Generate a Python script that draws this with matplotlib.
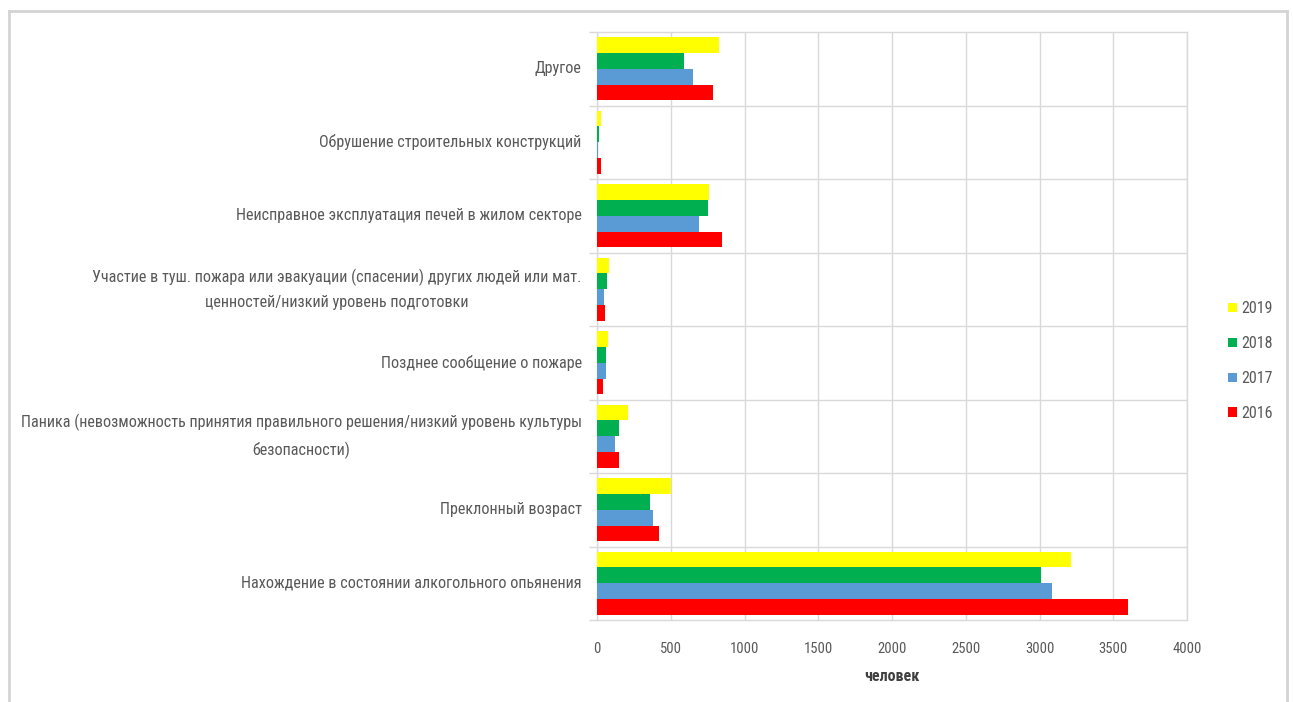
import matplotlib.pyplot as plt
from matplotlib.patches import Patch
import numpy as np

plt.rcParams['font.family'] = ['Roboto Condensed', 'Roboto', 'DejaVu Sans']

categories = [
    'Нахождение в состоянии алкогольного опьянения',
    'Преклонный возраст',
    'Паника (невозможность принятия правильного решения/низкий уровень культуры\nбезопасности)',
    'Позднее сообщение о пожаре',
    'Участие в туш. пожара или эвакуации (спасении) других людей или мат.\nценностей/низкий уровень подготовки',
    'Неисправное эксплуатация печей в жилом секторе',
    'Обрушение строительных конструкций',
    'Другое',
]

years = ['2016', '2017', '2018', '2019']
colors = ['#FF0000', '#5B9BD5', '#00B050', '#FFFF00']

v2016 = [3597, 422, 151, 43, 54, 848, 25, 787]
v2017 = [3083, 383, 120, 63, 48, 690, 10, 651]
v2018 = [3010, 361, 151, 63, 66, 753, 14, 590]
v2019 = [3213, 500, 213, 74, 83, 760, 27, 827]
series = [v2016, v2017, v2018, v2019]

text_color = '#595959'
grid_color = '#D9D9D9'

fig = plt.figure(figsize=(12.93, 7.02), dpi=100)
ax = fig.add_axes([597 / 1293, 1 - 620 / 702, 590 / 1293, 588 / 702])

y = np.arange(len(categories))
h = 0.215
for i, (vals, col, yr) in enumerate(zip(series, colors, years)):
    ax.barh(y + (i - 1.5) * h, vals, height=h, color=col, label=yr, zorder=3)

ax.set_xlim(0, 4000)
ax.set_ylim(-0.5, len(categories) - 0.5)
ax.set_xticks(np.arange(0, 4001, 500))
ax.set_yticks(y)
ax.set_yticklabels(categories, ha='right', va='center', multialignment='center',
                   linespacing=1.75)
ax.set_yticks(np.arange(-0.5, len(categories), 1), minor=True)

ax.tick_params(axis='y', which='major', length=0, labelsize=11.6, colors=text_color, pad=11)
ax.tick_params(axis='y', which='minor', length=6, color=grid_color, width=1)
ax.tick_params(axis='x', length=0, labelsize=10.5, colors=text_color, pad=16)

ax.xaxis.grid(True, color=grid_color, linewidth=1, zorder=0)
for b in np.arange(0.5, len(categories) - 1, 1):
    ax.axhline(b, color=grid_color, linewidth=1, zorder=0)
for s in ax.spines.values():
    s.set_color(grid_color)
    s.set_linewidth(1)

ax.set_xlabel('человек', fontsize=11.5, fontweight='bold', color='#404040', labelpad=9)

handles = [Patch(facecolor=c, edgecolor='none') for c in colors][::-1]
fig.legend(handles, years[::-1], loc='center left',
           bbox_to_anchor=(1220 / 1293, 1 - 361 / 702), frameon=False,
           fontsize=11.5, labelcolor=text_color, handlelength=0.55,
           handleheight=0.55, handletextpad=0.3, labelspacing=1.25,
           borderpad=0)

# outer frame of the chart area
frame_color = '#D4D4D4'
fig.add_artist(plt.Line2D([9 / 1293, 9 / 1293], [0, 1 - 11 / 702],
                          transform=fig.transFigure, color=frame_color, lw=2))
fig.add_artist(plt.Line2D([9 / 1293, 1287 / 1293], [1 - 11 / 702, 1 - 11 / 702],
                          transform=fig.transFigure, color=frame_color, lw=2))
fig.add_artist(plt.Line2D([1287 / 1293, 1287 / 1293], [0, 1 - 11 / 702],
                          transform=fig.transFigure, color=frame_color, lw=2))

fig.savefig('out.png', dpi=100)
